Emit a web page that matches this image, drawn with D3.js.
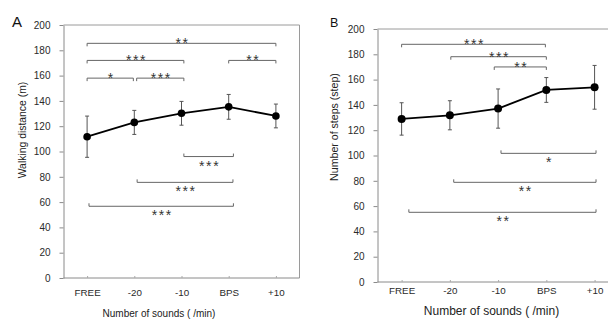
<!DOCTYPE html>
<html>
<head>
<meta charset="utf-8">
<script src="https://cdn.jsdelivr.net/npm/d3@7"></script>
<style>
  body { margin: 0; background: #fff; }
  svg { display: block; font-family: "Liberation Sans", Arial, sans-serif; }
</style>
</head>
<body>
<svg id="chart" width="608" height="325"></svg>
<script>
const categories = ["FREE", "-20", "-10", "BPS", "+10"];
const yTicks = [0, 20, 40, 60, 80, 100, 120, 140, 160, 180, 200];

// panel A: walking distance (m), mean and SD
const distMean = [111.7, 123, 130.2, 135.3, 128.1];
const distSd = [16.3, 9.5, 9.4, 9.8, 9.4];

// panel B: number of steps, mean and SD
const stepsMean = [128.9, 131.8, 137.1, 151.8, 153.9];
const stepsSd = [12.8, 11.5, 15.5, 9.8, 17.3];

// significance brackets: from / to as category index, level in y units
const distSig = [
  {from: 0, to: 4, level: 185.5, label: "**", side: "top"},
  {from: 0, to: 2.05, level: 172, label: "***", side: "top"},
  {from: 3, to: 4, level: 172, label: "**", side: "top"},
  {from: 0, to: 0.98, level: 158, label: "*", side: "top"},
  {from: 1.05, to: 2.05, level: 158, label: "***", side: "top"},
  {from: 2.05, to: 3.1, level: 96, label: "***", side: "bottom"},
  {from: 1.06, to: 3.09, level: 75.6, label: "***", side: "bottom"},
  {from: 0.04, to: 3.1, level: 56.7, label: "***", side: "bottom"}
];
const stepsSig = [
  {from: 0, to: 2.98, level: 187.9, label: "***", side: "top"},
  {from: 1.02, to: 3, level: 178.1, label: "***", side: "top"},
  {from: 1.92, to: 3, level: 170, label: "**", side: "top"},
  {from: 2.06, to: 4.03, level: 101.7, label: "*", side: "bottom"},
  {from: 1.08, to: 4.03, level: 78.8, label: "**", side: "bottom"},
  {from: 0.15, to: 4.03, level: 55.1, label: "**", side: "bottom"}
];

const svg = d3.select("#chart");

function drawPanel(p) {
  const g = svg.append("g");

  const x = d3.scalePoint().domain(categories).range([p.left, p.right]).padding(0.5);
  const y = d3.scaleLinear().domain([0, 200]).range([p.bottom, p.top]);
  const xi = d3.scaleLinear().domain([0, categories.length - 1])
    .range([x(categories[0]), x(categories[categories.length - 1])]);

  // frame (top and right)
  g.append("path")
    .attr("d", `M${p.left},${p.top}H${p.right}V${p.bottom}`)
    .attr("fill", "none").attr("stroke", "#9a9a9a").attr("stroke-width", 1);

  const yAxis = g.append("g")
    .attr("transform", `translate(${p.left},0)`)
    .call(d3.axisLeft(y).tickValues(yTicks).tickSizeInner(4).tickSizeOuter(0).tickPadding(9));
  yAxis.selectAll("path, line").attr("stroke", "#8a8a8a");
  yAxis.selectAll("text").attr("fill", "#2a2a2a").style("font-size", "10px");

  const xAxis = g.append("g")
    .attr("transform", `translate(0,${p.bottom})`)
    .call(d3.axisBottom(x).tickSizeInner(-2).tickSizeOuter(0).tickPadding(p.xPad));
  xAxis.select(".domain").attr("d", `M${p.left},0H${p.right}`).attr("stroke", "#8a8a8a");
  xAxis.selectAll("line").attr("stroke", "#aaa");
  xAxis.selectAll("text").attr("fill", "#2a2a2a").style("font-size", "9.8px");

  // brackets
  p.sig.forEach(s => {
    const x0 = xi(s.from), x1 = xi(s.to), yy = y(s.level);
    const t = s.side === "top" ? 3 : -3;
    g.append("path")
      .attr("d", `M${x0},${yy + t}V${yy}H${x1}V${yy + t}`)
      .attr("fill", "none").attr("stroke", "#666").attr("stroke-width", 1);
    g.append("text")
      .attr("x", (x0 + x1) / 2 + 1)
      .attr("y", s.side === "top" ? yy + 5 : yy + 14)
      .attr("text-anchor", "middle")
      .attr("fill", "#333")
      .style("font-size", "14px")
      .style("letter-spacing", "1.6px")
      .text(s.label);
  });

  // error bars
  const data = categories.map((c, i) => ({c: c, m: p.mean[i], sd: p.sd[i]}));
  const eb = g.selectAll(".eb").data(data).enter().append("g").attr("class", "eb");
  eb.append("line")
    .attr("x1", d => x(d.c)).attr("x2", d => x(d.c))
    .attr("y1", d => y(d.m - d.sd)).attr("y2", d => y(d.m + d.sd))
    .attr("stroke", "#555").attr("stroke-width", 1);
  [-1, 1].forEach(k => {
    eb.append("line")
      .attr("x1", d => x(d.c) - 2).attr("x2", d => x(d.c) + 2)
      .attr("y1", d => y(d.m + k * d.sd)).attr("y2", d => y(d.m + k * d.sd))
      .attr("stroke", "#555").attr("stroke-width", 1);
  });

  g.append("path")
    .datum(data)
    .attr("fill", "none").attr("stroke", "#000").attr("stroke-width", 1.8)
    .attr("d", d3.line().x(d => x(d.c)).y(d => y(d.m)));

  g.selectAll(".dot").data(data).enter().append("circle")
    .attr("cx", d => x(d.c)).attr("cy", d => y(d.m)).attr("r", p.r).attr("fill", "#000");

  // titles
  g.append("text")
    .attr("transform", `translate(${p.yTitleX},${p.yTitleY}) rotate(-90)`)
    .attr("text-anchor", "middle").attr("fill", "#222")
    .style("font-size", p.yTitleSize)
    .text(p.yTitle);
  g.append("text")
    .attr("x", p.xTitleX).attr("y", p.xTitleY)
    .attr("text-anchor", "middle").attr("fill", "#222")
    .style("font-size", p.xTitleSize)
    .text("Number of sounds ( /min)");
  g.append("text")
    .attr("x", p.tagX).attr("y", 27)
    .attr("fill", "#111").style("font-size", p.tagSize)
    .text(p.tag);
}

drawPanel({
  left: 63.5, right: 299.5, top: 25, bottom: 278,
  mean: distMean, sd: distSd, sig: distSig, r: 3.8, xPad: 11,
  yTitle: "Walking distance (m)", yTitleX: 25.5, yTitleY: 130, yTitleSize: "10.4px",
  xTitleX: 159, xTitleY: 317, xTitleSize: "10px",
  tag: "A", tagX: 12, tagSize: "15px"
});

drawPanel({
  left: 377.5, right: 618.7, top: 29, bottom: 282,
  mean: stepsMean, sd: stepsSd, sig: stepsSig, r: 4, xPad: 5,
  yTitle: "Number of steps (step)", yTitleX: 338, yTitleY: 127, yTitleSize: "10.6px",
  xTitleX: 491.5, xTitleY: 315, xTitleSize: "12px",
  tag: "B", tagX: 330, tagSize: "12.5px"
});
</script>
</body>
</html>
